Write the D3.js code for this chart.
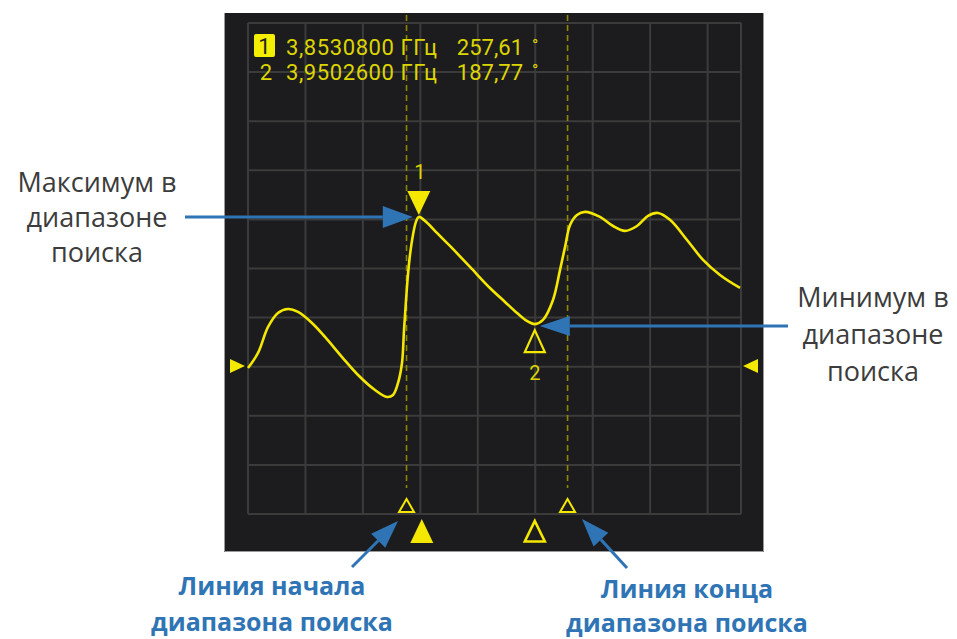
<!DOCTYPE html>
<html><head><meta charset="utf-8">
<script src="https://cdn.jsdelivr.net/npm/d3@7"></script>
<style>
html,body{margin:0;padding:0;background:#fff;}
svg{display:block;}
</style></head>
<body>
<svg id="chart" width="957" height="639"></svg>
<script>
// ---- data ----
const traceFreq = [3.7100,3.7184,3.7268,3.7351,3.7435,3.7519,3.7636,3.7745,3.7888,3.8022,3.8164,3.8264,3.8315,3.8357,3.8390,3.8407,3.8424,3.8440,3.8457,3.8482,3.8507,3.85308,3.8600,3.8683,3.8792,3.8960,3.9127,3.9253,3.9354,3.9437,3.95026,3.9571,3.9655,3.9714,3.9756,3.9798,3.9856,3.9923,4.0049,4.0158,4.0258,4.0359,4.0451,4.0535,4.0635,4.0778,4.0912,4.1054,4.1222];
const tracePhase = [159.2,169.0,185.9,195.0,197.6,195.7,188.5,179.4,166.3,154.6,144.8,140.3,141.6,149.4,162.4,183.9,203.5,219.8,232.8,245.9,254.4,257.61,253.8,247.2,238.7,225.0,211.3,202.2,195.0,189.8,187.77,190.5,203.5,223.1,238.1,252.4,258.9,260.9,257.6,251.7,248.5,251.7,258.3,260.2,255.7,242.6,229.6,219.8,211.3];
const markerIds = ["1","2"];
const markerFreq = [3.85308, 3.95026];
const markerPhase = [257.61, 187.77];
const markerFreqLabels = ["3,8530800 ГГц","3,9502600 ГГц"];
const markerPhaseLabels = ["257,61","187,77"];
const searchStart = 3.8428, searchStop = 3.9777;
const refPhase = 160.5;
const xDomain = [3.71, 4.123];
const yDomain = [64, 384];
const xDivisionsVisible = 8;   // full columns shown
const yDivisions = 10;
const annoMax = ["Максимум в","диапазоне","поиска"];
const annoMin = ["Минимум в","диапазоне","поиска"];
const annoStart = ["Линия начала","диапазона поиска"];
const annoStop = ["Линия конца","диапазона поиска"];

// ---- layout ----
const svg = d3.select("#chart");
const panel = {x0:224, y0:13, x1:764, y1:552};
const grid = {x0:248, x1:741, y0:23, y1:514};
const x = d3.scaleLinear().domain(xDomain).range([grid.x0, grid.x1]);
const y = d3.scaleLinear().domain(yDomain).range([grid.y1, grid.y0]);
const YEL = "#f4e800", TXT = "#dcd500", BLUE = "#2f75b5";

svg.append("rect").attr("x",panel.x0).attr("y",panel.y0).attr("width",panel.x1-panel.x0).attr("height",panel.y1-panel.y0).attr("fill","#1c1c1e");
svg.append("path").attr("d",`M${panel.x0+0.5},${panel.y0}V${panel.y1-0.5}H${panel.x1-0.5}V${panel.y0}`).attr("fill","none").attr("stroke","#9a9a9a").attr("stroke-width",1);

// grid
const gridG = svg.append("g").attr("stroke","#3b3b3b").attr("stroke-width",2).attr("fill","none");
const divW = 57.45;
for (let i=0;i<=xDivisionsVisible;i++){
  const gx = grid.x0 + i*divW;
  gridG.append("line").attr("x1",gx).attr("x2",gx).attr("y1",grid.y0).attr("y2",grid.y1);
}
gridG.append("line").attr("x1",grid.x1).attr("x2",grid.x1).attr("y1",grid.y0).attr("y2",grid.y1);
const yTicks = d3.range(yDivisions+1).map(i => yDomain[0] + i*(yDomain[1]-yDomain[0])/yDivisions);
yTicks.forEach(t => gridG.append("line").attr("x1",grid.x0).attr("x2",grid.x1).attr("y1",y(t)).attr("y2",y(t)));

// search range dashed lines
[searchStart, searchStop].forEach(f => {
  svg.append("line").attr("x1",x(f)).attr("x2",x(f)).attr("y1",15).attr("y2",488)
    .attr("stroke","#8d8600").attr("stroke-width",1.6).attr("stroke-dasharray","6,4");
  const cx = x(f);
  svg.append("path").attr("d",`M${cx},${499}L${cx+7.5},${512}L${cx-7.5},${512}Z`)
    .attr("fill","none").attr("stroke",YEL).attr("stroke-width",2).attr("stroke-linejoin","miter");
});

// reference level triangles
svg.append("path").attr("d",`M${230},${y(refPhase)-7}L${245},${y(refPhase)}L${230},${y(refPhase)+7}Z`).attr("fill",YEL);
svg.append("path").attr("d",`M${758},${y(refPhase)-7}L${743},${y(refPhase)}L${758},${y(refPhase)+7}Z`).attr("fill",YEL);

// trace
const pts = traceFreq.map((f,i)=>[f, tracePhase[i]]);
svg.append("path").datum(pts)
  .attr("d", d3.line().x(d=>x(d[0])).y(d=>y(d[1])).curve(d3.curveCatmullRom.alpha(0.5)))
  .attr("fill","none").attr("stroke",YEL).attr("stroke-width",2.6).attr("stroke-linejoin","round");

// markers on trace
{
  const mx = x(markerFreq[0]), my = y(markerPhase[0]);
  svg.append("path").attr("d",`M${mx},${my-2}L${mx+11.5},${my-26}L${mx-11.5},${my-26}Z`).attr("fill",YEL);
  svg.append("text").attr("x",mx+1).attr("y",my-38).attr("text-anchor","middle")
    .attr("font-family","Roboto").attr("font-size",20).attr("fill",TXT).text(markerIds[0]);
  const nx = x(markerFreq[1]), ny = y(markerPhase[1]);
  svg.append("path").attr("d",`M${nx},${ny+6}L${nx+10},${ny+28}L${nx-10},${ny+28}Z`)
    .attr("fill","none").attr("stroke",YEL).attr("stroke-width",2.2);
  svg.append("text").attr("x",nx).attr("y",ny+56).attr("text-anchor","middle")
    .attr("font-family","Roboto").attr("font-size",20).attr("fill",TXT).text(markerIds[1]);
}
// bottom markers
{
  const bx = x(markerFreq[0]) + 3;
  svg.append("path").attr("d",`M${bx},519L${bx+11.5},543L${bx-11.5},543Z`).attr("fill",YEL);
  const cx = x(markerFreq[1]);
  svg.append("path").attr("d",`M${cx},521L${cx+10},541.5L${cx-10},541.5Z`).attr("fill","none").attr("stroke",YEL).attr("stroke-width",2.6);
}

// readout
const ro = svg.append("g").attr("font-family","Roboto").attr("font-size",22).attr("fill",TXT);
ro.append("rect").attr("x",254).attr("y",34).attr("width",21).attr("height",23).attr("rx",2).attr("fill","#f4ee00");
ro.append("text").attr("x",264.5).attr("y",54).attr("text-anchor","middle").attr("fill","#222").text(markerIds[0]);
ro.append("text").attr("x",266).attr("y",80).attr("text-anchor","middle").text(markerIds[1]);
markerFreqLabels.forEach((t,i)=> ro.append("text").attr("x",286).attr("y",55+i*25).attr("textLength",151).text(t));
markerPhaseLabels.forEach((t,i)=> ro.append("text").attr("x",523).attr("y",55+i*25).attr("text-anchor","end").text(t));
[0,1].forEach(i=> ro.append("text").attr("x",532).attr("y",51+i*25).attr("font-size",17).text("°"));

// annotations
const anno = svg.append("g").attr("font-family","Open Sans").attr("fill","#3c3c3c").attr("font-size",27).attr("text-anchor","middle");
annoMax.forEach((t,i)=> anno.append("text").attr("x",97).attr("y",192+i*35).text(t));
annoMin.forEach((t,i)=> anno.append("text").attr("x",873).attr("y",307+i*37).text(t));
const annoB = svg.append("g").attr("font-family","Open Sans").attr("font-weight","bold").attr("fill",BLUE).attr("font-size",25).attr("text-anchor","middle");
annoStart.forEach((t,i)=> annoB.append("text").attr("x",272).attr("y",595+i*36).text(t));
annoStop.forEach((t,i)=> annoB.append("text").attr("x",687).attr("y",598+i*34).text(t));

// arrows
function arrow(x1,y1,x2,y2,len,half){
  const a = Math.atan2(y2-y1,x2-x1);
  const bx = x2 - len*Math.cos(a), by = y2 - len*Math.sin(a);
  svg.append("line").attr("x1",x1).attr("y1",y1).attr("x2",bx).attr("y2",by).attr("stroke",BLUE).attr("stroke-width",3);
  const px = -Math.sin(a)*half, py = Math.cos(a)*half;
  svg.append("path").attr("d",`M${x2},${y2}L${bx+px},${by+py}L${bx-px},${by-py}Z`).attr("fill",BLUE);
}
arrow(185,217,x(markerFreq[0])-6,217,30,11);
arrow(788,326,x(markerFreq[1])+5,326,30,10);
arrow(352,567,398,521,28,10);
arrow(627,568,582,519,28,10);
</script>
</body></html>
